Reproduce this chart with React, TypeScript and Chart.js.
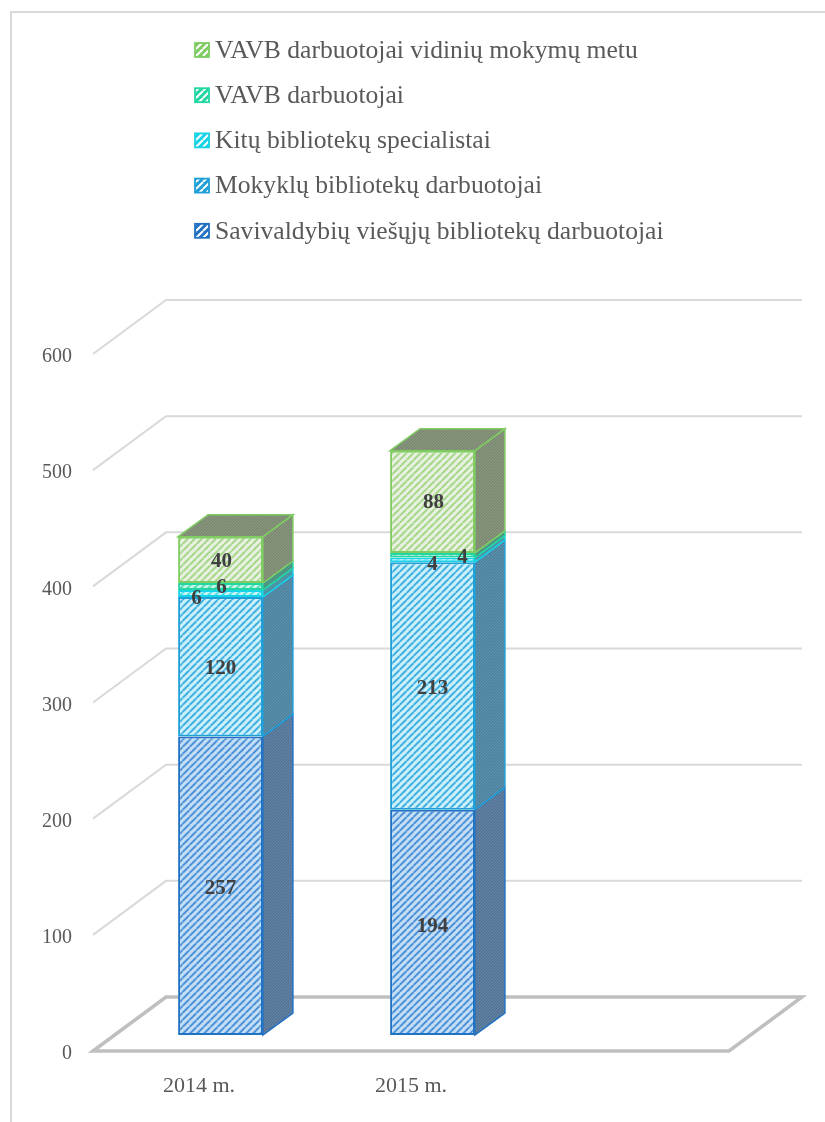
import React, { useEffect, useRef } from "react";
import { Chart, registerables } from "chart.js";

Chart.register(...registerables);

const categories = ["2014 m.", "2015 m.", ""];
const savivaldybiu = [257, 194, null];
const mokyklu = [120, 213, null];
const kituBibliotekuSpecialistai = [6, 4, null];
const vavbDarbuotojai = [6, 4, null];
const vavbVidiniai = [40, 88, null];
const seriesLabels = [
  "Savivaldybių viešųjų bibliotekų darbuotojai",
  "Mokyklų bibliotekų darbuotojai",
  "Kitų bibliotekų specialistai",
  "VAVB darbuotojai",
  "VAVB darbuotojai vidinių mokymų metu",
];
const seriesLine = ["#2272c3", "#1f9fd8", "#17d3e6", "#24d6a2", "#7fcc62"];
const seriesFill = ["#c4dff6", "#ccf1fb", "#c9f5f8", "#c9f5e8", "#eaf1e2"];
const seriesInk = ["#3a86d2", "#2aa5dc", "#2fd8e8", "#34d8aa", "#98d47a"];
const sideShade = ["#6488ac", "#5a96b4", "#4fa0ae", "#4fa08e", "#8c9a80"];
const sideInk = ["#46617f", "#466f88", "#4a8090", "#4a8070", "#6f7a66"];
const yTicks = [0, 100, 200, 300, 400, 500, 600];
const labelOffsets: Record<number, number[][]> = {
  0: [[0, 3], [0, 4]],
  1: [[0, 2], [0, 3]],
  2: [[-24, 5], [0, 5]],
  3: [[1, 1], [30, 2]],
  4: [[1, 2], [1, 1]],
};

const DEPTH_X = 73;
const DEPTH_Y = -54;
const BAR_DX = 30;
const BAR_DY = -22;
const SHIFT_X = 21.5;
const SHIFT_Y = -16;
const FONT = '"Liberation Serif", serif';

function hatch(bg: string, ink: string, size: number, width: number) {
  const c = document.createElement("canvas");
  c.width = size;
  c.height = size;
  const g = c.getContext("2d")!;
  g.fillStyle = bg;
  g.fillRect(0, 0, size, size);
  g.strokeStyle = ink;
  g.lineWidth = width;
  g.beginPath();
  for (let i = -size; i <= size; i += size) {
    g.moveTo(i, size);
    g.lineTo(i + size, 0);
  }
  g.stroke();
  return g.createPattern(c, "repeat")!;
}

const depthPlugin = {
  id: "depth",
  beforeDatasetsDraw(chart: any) {
    const { ctx, chartArea, scales } = chart;
    const y = scales.y;
    ctx.save();
    ctx.strokeStyle = "#d9d9d9";
    ctx.lineWidth = 2;
    yTicks.forEach((t) => {
      if (t === 0) return;
      const py = y.getPixelForValue(t);
      ctx.beginPath();
      ctx.moveTo(chartArea.left, py);
      ctx.lineTo(chartArea.left + DEPTH_X, py + DEPTH_Y);
      ctx.lineTo(chartArea.right + DEPTH_X, py + DEPTH_Y);
      ctx.stroke();
    });
    const f = y.getPixelForValue(0);
    ctx.strokeStyle = "#bfbfbf";
    ctx.lineWidth = 3.5;
    ctx.beginPath();
    ctx.moveTo(chartArea.left, f);
    ctx.lineTo(chartArea.left + DEPTH_X, f + DEPTH_Y);
    ctx.lineTo(chartArea.right + DEPTH_X, f + DEPTH_Y);
    ctx.lineTo(chartArea.right, f);
    ctx.closePath();
    ctx.stroke();
    ctx.restore();

    ctx.save();
    ctx.translate(SHIFT_X, SHIFT_Y);
    chart.data.datasets.forEach((ds: any, di: number) => {
      chart.getDatasetMeta(di).data.forEach((bar: any, i: number) => {
        if (ds.data[i] == null) return;
        const { x, y: top, base, width } = bar.getProps(["x", "y", "base", "width"], true);
        const r = x + width / 2;
        const l = x - width / 2;
        ctx.beginPath();
        ctx.moveTo(r, top);
        ctx.lineTo(r + BAR_DX, top + BAR_DY);
        ctx.lineTo(r + BAR_DX, base + BAR_DY);
        ctx.lineTo(r, base);
        ctx.closePath();
        ctx.fillStyle = ds.sidePattern;
        ctx.fill();
        ctx.strokeStyle = ds.borderColor;
        ctx.lineWidth = 1.5;
        ctx.stroke();
        if (di === chart.data.datasets.length - 1) {
          ctx.beginPath();
          ctx.moveTo(l, top);
          ctx.lineTo(l + BAR_DX, top + BAR_DY);
          ctx.lineTo(r + BAR_DX, top + BAR_DY);
          ctx.lineTo(r, top);
          ctx.closePath();
          ctx.fillStyle = ds.sidePattern;
          ctx.fill();
          ctx.stroke();
        }
      });
    });
    ctx.restore();
    ctx.save();
    ctx.translate(SHIFT_X, SHIFT_Y);
  },
  afterDatasetsDraw(chart: any) {
    const { ctx } = chart;
    ctx.restore();
    ctx.save();
    ctx.translate(SHIFT_X, SHIFT_Y);
    ctx.font = `bold 21px ${FONT}`;
    ctx.fillStyle = "#404040";
    ctx.textAlign = "center";
    ctx.textBaseline = "middle";
    chart.data.datasets.forEach((ds: any, di: number) => {
      chart.getDatasetMeta(di).data.forEach((bar: any, i: number) => {
        const v = ds.data[i];
        if (v == null) return;
        const { x, y: top, base } = bar.getProps(["x", "y", "base"], true);
        const o = labelOffsets[di][i];
        ctx.fillText(String(v), x + o[0], (top + base) / 2 + o[1]);
      });
    });
    ctx.restore();
    ctx.save();
    ctx.font = `25.6px ${FONT}`;
    ctx.textBaseline = "middle";
    ctx.textAlign = "left";
    const n = chart.data.datasets.length;
    for (let k = 0; k < n; k++) {
      const ds = chart.data.datasets[n - 1 - k];
      const cy = 50 + k * 45.2;
      ctx.fillStyle = ds.legendPattern;
      ctx.fillRect(195, cy - 7, 14, 14);
      ctx.strokeStyle = ds.borderColor;
      ctx.lineWidth = 1.8;
      ctx.strokeRect(195, cy - 7, 14, 14);
      ctx.fillStyle = "#595959";
      ctx.fillText(ds.label, 215, cy + 1);
    }
    ctx.restore();
  },
};

export default function App() {
  const ref = useRef<HTMLCanvasElement>(null);
  useEffect(() => {
    const values = [savivaldybiu, mokyklu, kituBibliotekuSpecialistai, vavbDarbuotojai, vavbVidiniai];
    const chart = new Chart(ref.current!, {
      type: "bar",
      data: {
        labels: categories,
        datasets: values.map((data, i) => ({
          label: seriesLabels[i],
          data,
          backgroundColor: hatch(seriesFill[i], seriesInk[i], 7, 1.7),
          sidePattern: hatch(sideShade[i], sideInk[i], 3, 1),
          legendPattern: hatch(seriesLine[i], "#ffffff", 7, 2),
          borderColor: seriesLine[i],
          borderWidth: 2,
          borderSkipped: false,
          barPercentage: 0.4,
          categoryPercentage: 1,
        })) as any,
      },
      options: {
        animation: false,
        responsive: false,
        layout: { padding: { left: 10, top: 354, right: 96, bottom: 0 } },
        plugins: { legend: { display: false }, tooltip: { enabled: false } },
        scales: {
          x: {
            stacked: true,
            grid: { display: false },
            border: { display: false },
            ticks: { color: "#595959", font: { family: FONT, size: 22 }, maxRotation: 0, padding: 14 },
            afterFit(s: any) { s.height = 71; },
          },
          y: {
            stacked: true,
            min: 0,
            max: 600,
            position: "left",
            grid: { display: false },
            border: { display: false },
            ticks: { color: "#595959", font: { family: FONT, size: 20 }, stepSize: 100, padding: 13, labelOffset: 3 },
            afterFit(s: any) { s.width = 83; },
          },
        },
      },
      plugins: [depthPlugin],
    });
    return () => chart.destroy();
  }, []);
  return (
    <div style={{ position: "absolute", left: 0, top: 0, width: 825, height: 1122, background: "#fff" }}>
      <div style={{ position: "absolute", left: 10, top: 11, width: 815, height: 1111, borderLeft: "2px solid #d9d9d9", borderTop: "2px solid #d9d9d9", boxSizing: "border-box" }} />
      <canvas ref={ref} width={825} height={1122} style={{ position: "absolute", left: 0, top: 0, width: 825, height: 1122 }} />
    </div>
  );
}
